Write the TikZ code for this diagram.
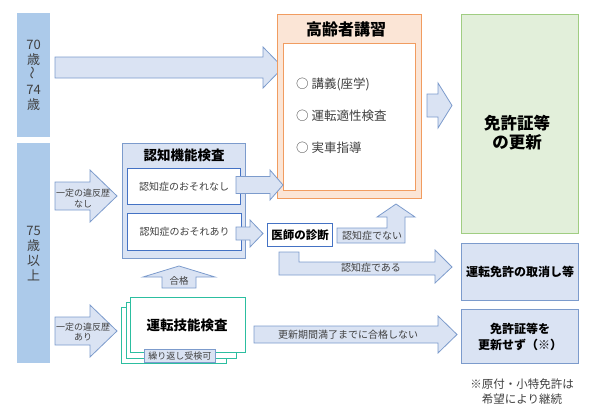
\documentclass[tikz,border=0pt]{standalone}
\usepackage{fontspec}
\setmainfont{Noto Sans CJK JP}
\usetikzlibrary{positioning}
\definecolor{barblue}{RGB}{172,202,234}
\definecolor{arrfill}{RGB}{218,227,243}
\definecolor{arrline}{RGB}{124,155,204}
\definecolor{boxline}{RGB}{68,114,196}
\definecolor{orfill}{RGB}{251,229,214}
\definecolor{orline}{RGB}{241,156,96}
\definecolor{grfill}{RGB}{226,239,218}
\definecolor{grline}{RGB}{160,205,130}
\definecolor{tealline}{RGB}{44,190,160}
\definecolor{txtgray}{RGB}{64,64,64}
\newcommand{\fsz}[2]{\fontsize{#1}{#2}\selectfont}
% right-pointing block arrow: x1, x2, y centre, half shaft, half head, head length
\newcommand{\rblock}[6]{\draw[blockarrow] (#1,{#3-#4}) -- ({#2-#6},{#3-#4}) -- ({#2-#6},{#3-#5}) -- (#2,#3) -- ({#2-#6},{#3+#5}) -- ({#2-#6},{#3+#4}) -- (#1,{#3+#4}) -- cycle;}
\tikzset{
  agebar/.style={fill=barblue, draw=none, text=txtgray, align=center, anchor=north west, inner sep=0pt, font=\fsz{13}{15}},
  blockarrow/.style={fill=arrfill, draw=arrline, line width=0.8pt},
  arrtext/.style={text=txtgray, align=center, inner sep=0pt},
  frame/.style={anchor=north west, inner sep=0pt, line width=1pt},
  whitebox/.style={frame, fill=white, draw=boxline, text=txtgray, font=\fsz{10}{12}},
  resultbox/.style={frame, fill=arrfill, draw=arrline, align=center, font=\bfseries\fsz{12}{16}},
  testbox/.style={frame, fill=white, draw=tealline}
}
\begin{document}
\begin{tikzpicture}[x=1pt, y=-1pt]
  \useasboundingbox (0,0) rectangle (600,418);

  % age bars
  \node[agebar, minimum width=33, minimum height=124] (age70) at (17,13) {70\\歳\\\rotatebox{90}{～}\\74\\歳};
  \node[agebar, minimum width=33, minimum height=220] (age75) at (17,143) {75\\歳\\以\\上};

  % 70-74: straight to the course
  \rblock{55}{283}{67.5}{10.5}{20.5}{20}

  % course
  \node[frame, fill=orfill, draw=orline, minimum width=144, minimum height=184] (koushu) at (277,14) {};
  \node[frame, fill=white, draw=orline, minimum width=132, minimum height=147] (menu) at (283,43) {};
  \node[font=\bfseries\fsz{16}{18}] (koushuT) at (346,29) {高齢者講習};
  \node[arrtext, anchor=west, font=\fsz{12.5}{14}] (item1) at (296,84) {○ 講義(座学)};
  \node[arrtext, anchor=west, font=\fsz{12.5}{14}] (item2) at (296,116) {○ 運転適性検査};
  \node[arrtext, anchor=west, font=\fsz{12.5}{14}] (item3) at (296,148) {○ 実車指導};

  % course -> renewal
  \rblock{427}{452}{105.5}{11.5}{22.5}{14}
  \node[frame, fill=grfill, draw=grline, minimum width=117, minimum height=219] (koushin) at (461,14) {};
  \node[align=center, font=\bfseries\fsz{16.5}{19}] (koushinT) at (517,133) {免許証等\\の更新};

  % 75+: cognitive test
  \rblock{55}{117}{196}{14}{26}{27}
  \node[arrtext, font=\fsz{9}{10.5}] (ihanNashi) at (83,198.5) {一定の違反歴\\なし};
  \node[frame, fill=arrfill, draw=arrline, minimum width=123, minimum height=115] (ninchi) at (122,143) {};
  \node[font=\bfseries\fsz{13.5}{15}] (ninchiT) at (184,155) {認知機能検査};
  \node[whitebox, minimum width=113, minimum height=36] (osoreNashi) at (127,168) {認知症のおそれなし};
  \node[whitebox, minimum width=114, minimum height=37] (osoreAri) at (127,213) {認知症のおそれあり};
  \rblock{236}{283}{185}{8.5}{15}{13}
  \rblock{236}{263}{233.5}{6.5}{13.5}{13}

  % doctor
  \node[frame, fill=white, draw=boxline, minimum width=65, minimum height=23, font=\bfseries\fsz{11.5}{13}] (ishi) at (267,223) {医師の診断};
  \draw[blockarrow] (337,228) -- (387,228) -- (387,217) -- (377,217) -- (396,204) -- (415,217) -- (405,217) -- (405,243) -- (337,243) -- cycle;
  \node[arrtext, font=\fsz{10}{12}] (deNai) at (372,236) {認知症でない};
  \draw[blockarrow] (279,252) -- (299,252) -- (299,262) -- (435,262) -- (435,250) -- (452,267) -- (435,283) -- (435,275) -- (279,275) -- cycle;
  \node[arrtext, font=\fsz{10}{12}] (deAru) at (371,268) {認知症である};
  \node[resultbox, minimum width=117, minimum height=57] (torikeshi) at (461,243) {運転免許の取消し等};

  % driving skill test
  \draw[blockarrow] (162,288) -- (162,277) -- (143,277) -- (179,266) -- (215,277) -- (196,277) -- (196,288) -- cycle;
  \node[arrtext, font=\fsz{9.5}{11}] (goukaku) at (179,281) {合格};
  \rblock{55}{117}{331}{14}{26}{27}
  \node[arrtext, font=\fsz{9}{10.5}] (ihanAri) at (83,332) {一定の違反歴\\あり};
  \node[testbox, minimum width=105, minimum height=56] (ginou3) at (121,307) {};
  \node[testbox, minimum width=110, minimum height=56] (ginou2) at (126,302) {};
  \node[testbox, minimum width=115, minimum height=55] (ginou) at (130,297) {};
  \node[font=\bfseries\fsz{13.5}{15}] (ginouT) at (187,325) {運転技能検査};
  \node[frame, fill=arrfill, draw=arrline, line width=0.8pt, minimum width=71, minimum height=13, font=\fsz{9}{10}, text=txtgray] (kurikaeshi) at (144,349) {繰り返し受検可};
  \rblock{254}{457}{334.5}{8.5}{18.5}{19}
  \node[arrtext, font=\fsz{10}{12}] (manryou) at (348,335) {更新期間満了までに合格しない};
  \node[resultbox, minimum width=117, minimum height=54] (sezu) at (461,309) {免許証等を\\更新せず（※）};

  % note
  \node[arrtext, font=\fsz{11.5}{15}] (chuu) at (522,392) {※原付・小特免許は\\希望により継続};
\end{tikzpicture}
\end{document}
